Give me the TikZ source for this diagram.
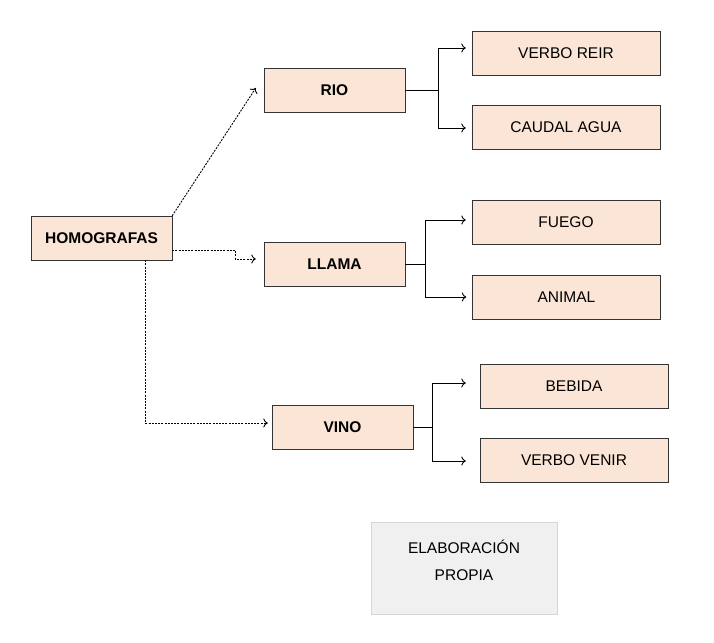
\documentclass[tikz,border=0pt]{standalone}
\usepackage{fontspec}
\setmainfont{Liberation Sans}
\usetikzlibrary{arrows.meta, calc}
\definecolor{boxpeach}{HTML}{FBE5D6}
\definecolor{boxline}{HTML}{333333}
\definecolor{notegray}{HTML}{F0F0F0}
\definecolor{noteline}{HTML}{D6D6D6}

\begin{document}
\begin{tikzpicture}[x=1pt, y=-1pt,
    word/.style={draw=boxline, fill=boxpeach, minimum width=141pt,
      minimum height=44pt, inner sep=0pt, font=\fontsize{15.5}{17}\selectfont\bfseries},
    meaning/.style={draw=boxline, fill=boxpeach, minimum width=188pt,
      minimum height=44pt, inner sep=0pt, font=\fontsize{15.5}{17}\selectfont},
    link/.style={-{To[length=4.5pt, width=9pt]}, dash pattern=on 2pt off 1.2pt,
      line width=0.9pt},
    branch/.style={line width=0.9pt, arrows={-{To[length=4.5pt, width=9pt]}}}]
  \useasboundingbox (0,0) rectangle (714,642);

  % words
  \node[word] (homo) at (101.5,238) {HOMOGRAFAS};
  \node[word] (rio) at (334.5,90) {RIO};
  \node[word] (llama) at (334.5,264) {LLAMA};
  \node[word] (vino) at (342.5,427) {VINO};

  % meanings
  \node[meaning] (reir) at (566,53) {VERBO REIR};
  \node[meaning] (caudal) at (566,127) {CAUDAL AGUA};
  \node[meaning] (fuego) at (566,222) {FUEGO};
  \node[meaning] (animal) at (566.5,297) {ANIMAL};
  \node[meaning] (bebida) at (574,386) {BEBIDA};
  \node[meaning] (venir) at (574,460) {VERBO VENIR};

  \node[draw=noteline, fill=notegray, minimum width=186pt, minimum height=92pt,
    align=center, text depth=15pt, font=\fontsize{15.5}{27}\selectfont]
    (source) at (464,568) {ELABORACIÓN\\PROPIA};

  % dotted links
  \coordinate (rioin) at ($(rio.west)+(-8,-2)$);
  \coordinate (llamain) at ($(llama.west)+(-8,-5)$);
  \coordinate (vinoin) at ($(vino.west)+(-4,-4)$);
  \draw[link] (homo.north east) -- (rioin);
  \draw[link] ($(homo.south east)+(0,-10)$) -- ++(63,0) |- (llamain);
  \draw[link] ($(homo.south)+(43.5,0)$) |- (vinoin);

  % meaning trees
  \draw[line width=0.9pt] (rio.east) -- ++(33,0) coordinate (riofork);
  \draw[branch] (riofork) |- ($(reir.west)+(-6,-5)$);
  \draw[branch] (riofork) |- ($(caudal.west)+(-6,1)$);

  \draw[line width=0.9pt] (llama.east) -- ++(20,0) coordinate (llamafork);
  \draw[branch] (llamafork) |- ($(fuego.west)+(-6,-2)$);
  \draw[branch] (llamafork) |- ($(animal.west)+(-6,0)$);

  \draw[line width=0.9pt] (vino.east) -- ++(19,0) coordinate (vinofork);
  \draw[branch] (vinofork) |- ($(bebida.west)+(-14,-3)$);
  \draw[branch] (vinofork) |- ($(venir.west)+(-14,1)$);
\end{tikzpicture}
\end{document}
